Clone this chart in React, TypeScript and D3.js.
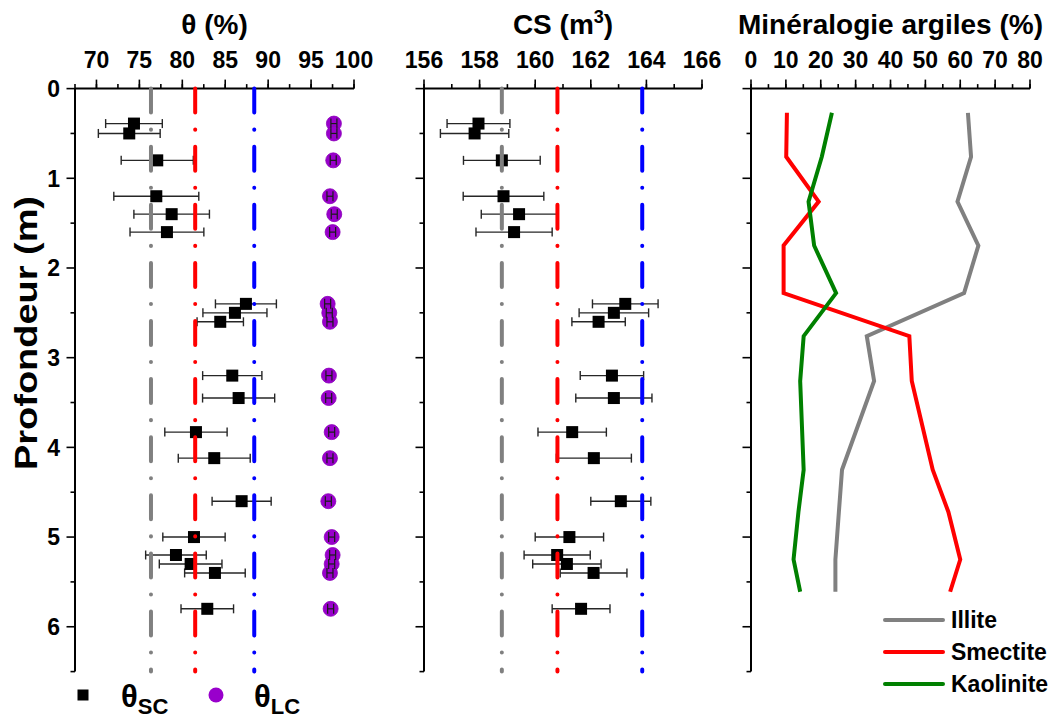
import React from "react";
import * as d3 from "d3";

// ---------- data ----------
const depth = [0.39, 0.5, 0.8, 1.2, 1.4, 1.6, 2.4, 2.5, 2.6, 3.2, 3.45, 3.83, 4.12, 4.6, 5.0, 5.2, 5.3, 5.4, 5.8];
const thetaSC = [74.37, 73.82, 77.08, 76.97, 78.76, 78.21, 87.41, 86.13, 84.42, 85.82, 86.56, 81.59, 83.72, 86.91, 81.36, 79.26, 80.97, 83.8, 82.91];
const thetaSCErr = [3.3, 3.6, 4.2, 4.95, 4.4, 4.3, 3.55, 3.73, 2.7, 3.45, 4.2, 3.63, 4.19, 3.44, 3.63, 3.53, 3.65, 3.53, 3.06];
const thetaLC = [97.66, 97.66, 97.58, 97.2, 97.7, 97.51, 96.93, 97.12, 97.2, 97.08, 97.05, 97.4, 97.2, 97.01, 97.4, 97.51, 97.4, 97.2, 97.28];
const thetaLCErr = [0.35, 0.35, 0.35, 0.35, 0.35, 0.35, 0.35, 0.35, 0.35, 0.35, 0.35, 0.35, 0.35, 0.35, 0.35, 0.35, 0.35, 0.35, 0.35];
const cs = [157.96, 157.82, 158.8, 158.86, 159.42, 159.24, 163.24, 162.83, 162.28, 162.76, 162.83, 161.33, 162.11, 163.08, 161.23, 160.79, 161.14, 162.1, 161.65];
const csErr = [1.13, 1.23, 1.38, 1.45, 1.36, 1.37, 1.18, 1.25, 0.96, 1.14, 1.37, 1.23, 1.35, 1.08, 1.23, 1.19, 1.23, 1.2, 1.04];
const thetaRefs = [76.35, 81.5, 88.38];
const csRefs = [158.8, 160.8, 163.85];
const refColors = ["#808080", "#ff0000", "#0000ff"];

const clayDepth = [0.27, 0.76, 1.26, 1.75, 2.28, 2.76, 3.26, 4.25, 4.72, 5.25, 5.61];
const illite = [62.2, 63.1, 59.2, 65.2, 61.1, 33.2, 35.3, 26.1, 25.2, 24.2, 24.2];
const smectite = [10.3, 10.1, 19.4, 9.35, 9.35, 45.4, 46.1, 52.1, 56.6, 60.0, 57.1];
const kaolinite = [23.2, 20.3, 16.5, 18.1, 24.4, 15.1, 14.1, 15.1, 13.6, 12.2, 14.1];
const clayNames = ["Illite", "Smectite", "Kaolinite"];
const clayColors = ["#808080", "#ff0000", "#008000"];

const thetaTicks = [70, 75, 80, 85, 90, 95, 100];
const csTicks = [156, 158, 160, 162, 164, 166];
const clayTicks = [0, 10, 20, 30, 40, 50, 60, 70, 80];
const depthTicks = [0, 1, 2, 3, 4, 5, 6];

const FONT = "'Liberation Sans', Arial, Helvetica, sans-serif";

const y = d3.scaleLinear().domain([0, 6.5]).range([88.6, 671.6]);
const x1 = d3.scaleLinear().domain([67.5, 100]).range([75, 354]);
const x2 = d3.scaleLinear().domain([156, 166]).range([424, 702]);
const x3 = d3.scaleLinear().domain([0, 80]).range([751, 1030]);

function Axes({ x, majors, minorStep, title, showYLabels }: any) {
  const [d0, d1] = x.domain();
  const minors: number[] = [];
  for (let v = d0; v <= d1 + 1e-9; v += minorStep) minors.push(+v.toFixed(4));
  const yMinors: number[] = [];
  for (let v = 0; v <= 6.5 + 1e-9; v += 0.5) yMinors.push(+v.toFixed(2));
  const left = x.range()[0];
  const right = x.range()[1];
  const top = y(0);
  return (
    <g>
      <line x1={left} x2={right} y1={top} y2={top} stroke="#000" strokeWidth={2} />
      <line x1={left} x2={left} y1={top} y2={y(6.5)} stroke="#000" strokeWidth={2} />
      {minors.map((v) => (
        <line key={"mx" + v} x1={x(v)} x2={x(v)} y1={top} y2={top - 4.5} stroke="#000" strokeWidth={1.6} />
      ))}
      {majors.map((v: number) => (
        <g key={"Mx" + v}>
          <line x1={x(v)} x2={x(v)} y1={top} y2={top - 9} stroke="#000" strokeWidth={1.6} />
          <text x={x(v)} y={68} textAnchor="middle" fontSize={23} fontWeight="bold" fontFamily={FONT}>
            {v}
          </text>
        </g>
      ))}
      {yMinors.map((v) => {
        const major = Math.abs(v - Math.round(v)) < 1e-6;
        return (
          <line key={"my" + v} x1={left} x2={left - (major ? 8.5 : 4.5)} y1={y(v)} y2={y(v)} stroke="#000" strokeWidth={1.6} />
        );
      })}
      {showYLabels &&
        depthTicks.map((v) => (
          <text key={"yl" + v} x={left - 15} y={y(v)} dy="0.36em" textAnchor="end" fontSize={23} fontWeight="bold" fontFamily={FONT}>
            {v}
          </text>
        ))}
      {title ? (
        <text x={(left + right) / 2} y={34} textAnchor="middle" fontSize={28} fontWeight="bold" fontFamily={FONT}>
          {title}
        </text>
      ) : null}
    </g>
  );
}

function RefLines({ x, values }: any) {
  return (
    <g>
      {values.map((v: number, i: number) => (
        <line
          key={i}
          x1={x(v)}
          x2={x(v)}
          y1={y(0)}
          y2={y(6.5)}
          stroke={refColors[i]}
          strokeWidth={4}
          strokeLinecap="round"
          strokeDasharray="24 17 0.1 17"
        />
      ))}
    </g>
  );
}

function ErrBars({ x, vals, errs, cap, color, width }: any) {
  return (
    <g stroke={color} strokeWidth={width} fill="none">
      {vals.map((v: number, i: number) => {
        const yy = y(depth[i]);
        const a = x(v - errs[i]);
        const b = x(v + errs[i]);
        return (
          <g key={i}>
            <line x1={a} x2={b} y1={yy} y2={yy} />
            <line x1={a} x2={a} y1={yy - cap / 2} y2={yy + cap / 2} />
            <line x1={b} x2={b} y1={yy - cap / 2} y2={yy + cap / 2} />
          </g>
        );
      })}
    </g>
  );
}

function Squares({ x, vals }: any) {
  return (
    <g>
      {vals.map((v: number, i: number) => (
        <rect key={i} x={x(v) - 6} y={y(depth[i]) - 6} width={12} height={12} fill="#000" />
      ))}
    </g>
  );
}

export default function App() {
  const clayLine = d3
    .line<[number, number]>()
    .x((d) => x3(d[0]))
    .y((d) => y(d[1]));
  const claySeries = [illite, smectite, kaolinite];

  return (
    <svg width={1054} height={720} style={{ position: "absolute", left: 0, top: 0, background: "#fff" }}>
      <rect x={0} y={0} width={1054} height={720} fill="#fff" />
      {/* Panel 1 */}
      <Axes x={x1} majors={thetaTicks} minorStep={2.5} title="θ (%)" showYLabels={true} />
      <ErrBars x={x1} vals={thetaSC} errs={thetaSCErr} cap={9} color="#262626" width={1.4} />
      <Squares x={x1} vals={thetaSC} />
      {thetaLC.map((v, i) => (
        <circle key={i} cx={x1(v)} cy={y(depth[i])} r={7.5} fill="#9900cc" stroke="#8a00b8" strokeWidth={0.8} />
      ))}
      <ErrBars x={x1} vals={thetaLC} errs={thetaLCErr} cap={10} color="#1a1a1a" width={1.2} />
      <RefLines x={x1} values={thetaRefs} />

      {/* Panel 2 */}
      <Axes x={x2} majors={csTicks} minorStep={1} title={""} showYLabels={false} />
      <text x={(424 + 702) / 2} y={34} textAnchor="middle" fontSize={28} fontWeight="bold" fontFamily={FONT}>
        CS (m<tspan dy={-11} fontSize={18}>3</tspan><tspan dy={11}>)</tspan>
      </text>
      <ErrBars x={x2} vals={cs} errs={csErr} cap={9} color="#262626" width={1.4} />
      <Squares x={x2} vals={cs} />
      <RefLines x={x2} values={csRefs} />

      {/* Panel 3 */}
      <Axes x={x3} majors={clayTicks} minorStep={5} title="Minéralogie argiles (%)" showYLabels={false} />
      {claySeries.map((s, k) => (
        <path
          key={k}
          d={clayLine(s.map((v, i) => [v, clayDepth[i]] as [number, number])) || ""}
          fill="none"
          stroke={clayColors[k]}
          strokeWidth={4}
          strokeLinejoin="miter"
        />
      ))}
      {clayNames.map((n, k) => (
        <g key={n}>
          <line x1={885} x2={943} y1={620 + k * 32} y2={620 + k * 32} stroke={clayColors[k]} strokeWidth={4} strokeLinecap="round" />
          <text x={951} y={628 + k * 32} fontSize={23} fontWeight="bold" fontFamily={FONT}>
            {n}
          </text>
        </g>
      ))}

      {/* Y label */}
      <text
        transform="translate(37,333) rotate(-90)"
        textAnchor="middle"
        fontSize={32}
        fontWeight="bold"
        fontFamily={FONT}
        textLength={274}
        lengthAdjust="spacingAndGlyphs"
      >
        Profondeur (m)
      </text>

      {/* Bottom legend */}
      <rect x={77.5} y={689.5} width={11} height={11} fill="#000" />
      <text x={121} y={707} fontSize={31} fontWeight="bold" fontFamily={FONT}>
        θ<tspan dy={7} fontSize={22}>SC</tspan>
      </text>
      <circle cx={216} cy={695} r={7.5} fill="#9900cc" />
      <text x={254} y={707} fontSize={31} fontWeight="bold" fontFamily={FONT}>
        θ<tspan dy={7} fontSize={22}>LC</tspan>
      </text>
    </svg>
  );
}
